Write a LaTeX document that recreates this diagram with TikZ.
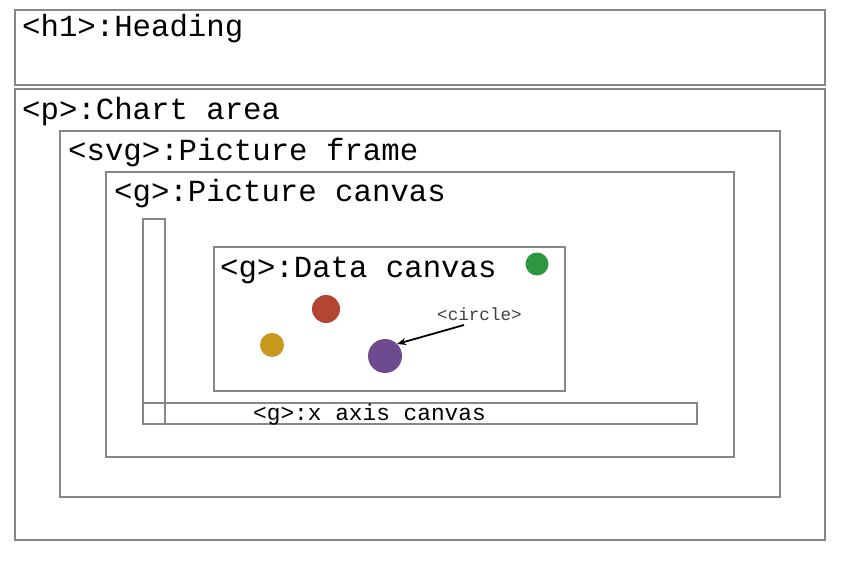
\documentclass[tikz,border=0pt]{standalone}
\usepackage{fontspec}
\setmainfont{Liberation Mono}
\usetikzlibrary{arrows.meta}
\definecolor{boxgray}{HTML}{878787}
\definecolor{cgreen}{HTML}{2E9640}
\definecolor{cred}{HTML}{B34532}
\definecolor{cyellow}{HTML}{C8991E}
\definecolor{cpurple}{HTML}{6E4A8E}
\begin{document}
\begin{tikzpicture}[x=1pt,y=-1pt,
  box/.style={draw=boxgray, line width=1.8pt, inner sep=0pt, outer sep=0pt, anchor=north west},
  biglbl/.style={anchor=base west, inner sep=0pt, font=\fontsize{30.7}{32}\selectfont},
  midlbl/.style={anchor=base west, inner sep=0pt, font=\fontsize{22.8}{24}\selectfont},
  smalllbl/.style={anchor=base west, inner sep=0pt, text=black!75, font=\fontsize{17.6}{19}\selectfont},
  dot/.style={circle, inner sep=0pt, outer sep=0pt, draw=none}
]
\useasboundingbox (0,0) rectangle (843,564);
\fill[white] (0,0) rectangle (843,564);
% boxes
\node[box, minimum width=810pt, minimum height=75pt] (h1) at (15,10) {};
\node[box, minimum width=810pt, minimum height=451pt] (p) at (15,89) {};
\node[box, minimum width=720pt, minimum height=366pt] (svg) at (60,131) {};
\node[box, minimum width=628pt, minimum height=285pt] (pc) at (106,172) {};
\node[box, minimum width=22pt, minimum height=205pt] (yax) at (143,219) {};
\node[box, minimum width=554pt, minimum height=21pt] (xax) at (143,403) {};
\node[box, minimum width=351pt, minimum height=144pt] (dc) at (214,247) {};
% labels
\node[biglbl] (th1) at (22,37) {<h1>:Heading};
\node[biglbl] (tp) at (22,120) {<p>:Chart area};
\node[biglbl] (tsvg) at (68,161) {<svg>:Picture frame};
\node[biglbl] (tpc) at (114,202) {<g>:Picture canvas};
\node[biglbl] (tdc) at (220,277) {<g>:Data canvas};
\node[midlbl] (txax) at (253,420) {<g>:x axis canvas};
\node[smalllbl] (tcirc) at (437,320) {<circle>};
% circles
\node[dot, fill=cgreen, minimum size=23pt] (cg) at (537,264) {};
\node[dot, fill=cred, minimum size=28pt] (cr) at (326,309) {};
\node[dot, fill=cyellow, minimum size=24pt] (cy) at (272,345) {};
\node[dot, fill=cpurple, minimum size=34pt] (cp) at (385,356) {};
% arrow
\coordinate (as) at (464,325);
\draw[-{Stealth[length=9pt,width=7pt]}, line width=1.8pt] (as) -- (cp.45);
\end{tikzpicture}
\end{document}
